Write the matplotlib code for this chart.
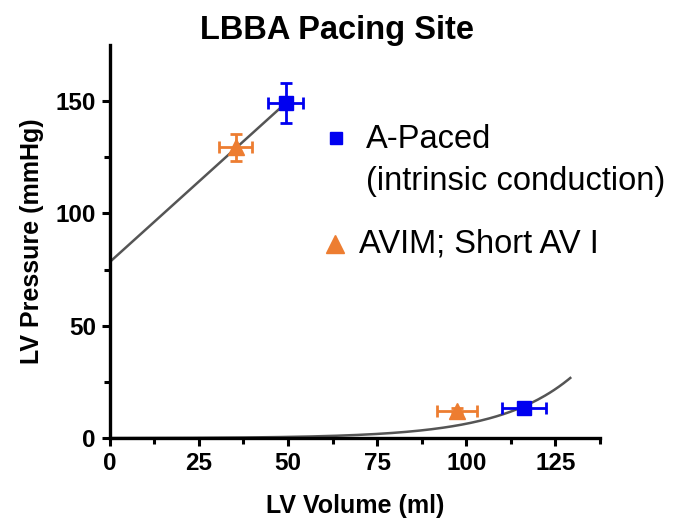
import numpy as np
import matplotlib.pyplot as plt
from matplotlib import font_manager

# end-systolic / end-diastolic points per pacing mode (volume ml, pressure mmHg)
modes = ['A-Paced\n(intrinsic conduction)', 'AVIM; Short AV I']
es_vol = [49.3, 35.3]
es_vol_err = [5.0, 4.6]
es_pres = [149.0, 129.5]
es_pres_err = [9.0, 6.0]
ed_vol = [116.1, 97.4]
ed_vol_err = [6.2, 5.6]
ed_pres = [13.6, 12.3]
ed_pres_err = [1.5, 1.0]

# ESPVR (linear) and EDPVR (exponential) fit coefficients
espvr_p0, espvr_v1 = 78.4, 49.3
espvr_slope = (149.0 - 78.4) / 49.3
edpvr_a, edpvr_k = 0.0477, 0.049
edpvr_vmax = 129.2

colors = ['#0000f0', '#ed7d31']
markers = ['s', '^']
msizes = [10, 12]

narrow = 'Liberation Sans Narrow'
names = {f.name for f in font_manager.fontManager.ttflist}
label_font = narrow if narrow in names else 'Liberation Sans'

plt.rcParams['font.family'] = ['Liberation Sans', 'DejaVu Sans']

fig = plt.figure(figsize=(6.74, 5.21), dpi=100)
ax = fig.add_axes([0.163, 0.159, 0.727, 0.755])

v = np.linspace(0, espvr_v1, 50)
ax.plot(v, espvr_p0 + espvr_slope * v, color='#555555', lw=1.8, zorder=1)
v = np.linspace(0, edpvr_vmax, 200)
ax.plot(v, edpvr_a * np.exp(edpvr_k * v), color='#555555', lw=1.8, zorder=1)

for i in range(len(modes)):
    for vx, vxe, py, pye in [(es_vol[i], es_vol_err[i], es_pres[i], es_pres_err[i]),
                             (ed_vol[i], ed_vol_err[i], ed_pres[i], ed_pres_err[i])]:
        ax.errorbar(vx, py, xerr=vxe, yerr=pye, fmt=markers[i], color=colors[i],
                    ms=msizes[i], elinewidth=2, capsize=4.5, capthick=2,
                    zorder=3, clip_on=False)

ax.set_xlim(0, 137.5)
ax.set_ylim(0, 175)
ax.set_xticks([0, 25, 50, 75, 100, 125])
ax.set_xticks(np.arange(12.5, 138, 25), minor=True)
ax.set_yticks([0, 50, 100, 150])
ax.set_yticks([25, 75, 125], minor=True)

for s in ['top', 'right']:
    ax.spines[s].set_visible(False)
for s in ['left', 'bottom']:
    ax.spines[s].set_linewidth(2.4)
ax.tick_params(which='major', direction='out', length=6, width=2.2, pad=4)
ax.tick_params(which='minor', direction='out', length=4, width=2.2)
for lab in ax.get_xticklabels() + ax.get_yticklabels():
    lab.set_fontweight('bold')
    lab.set_fontsize(17.5)

ax.set_xlabel('LV Volume (ml)', fontsize=18, fontweight='bold',
              family=label_font, labelpad=14)
ax.set_ylabel('LV Pressure (mmHg)', fontsize=18, fontweight='bold',
              family=label_font, labelpad=8)
fig.text(0.5, 0.925, 'LBBA Pacing Site', ha='center', va='baseline',
         fontsize=23.5, fontweight='bold')

# legend drawn as free text next to marker glyphs
first, second = modes[0].split('\n')
ax.plot([63.5], [133.6], 's', color=colors[0], ms=9, clip_on=False)
ax.text(71.8, 129.3, first, fontsize=23.5, va='baseline', ha='left')
ax.text(71.8, 110.4, second, fontsize=23.5, va='baseline', ha='left')
ax.plot([63.2], [86.5], '^', color=colors[1], ms=13, clip_on=False)
ax.text(70.0, 82.4, modes[1], fontsize=23.5, va='baseline', ha='left')

fig.savefig('out.png', dpi=100)
